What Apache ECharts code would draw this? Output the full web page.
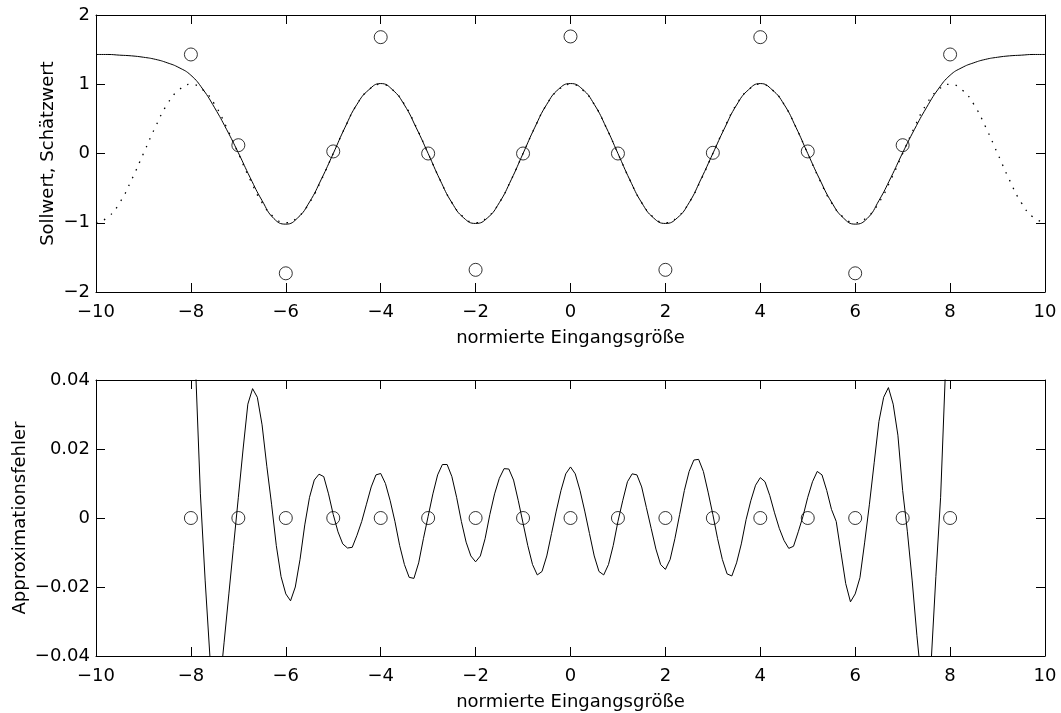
<!DOCTYPE html>
<html>
<head>
<meta charset="utf-8">
<script src="https://cdn.jsdelivr.net/npm/echarts@6/dist/echarts.min.js"></script>
<style>
  html, body { margin: 0; background: #fff; }
  #chart { width: 1061px; height: 713px; }
</style>
</head>
<body>
<div id="chart"></div>
<script>
// Stützstellen (Kreise)
const knotX = [-8, -7, -6, -5, -4, -3, -2, -1, 0, 1, 2, 3, 4, 5, 6, 7, 8];
const knotY = [1.43, 0.12, -1.73, 0.03, 1.68, 0.0, -1.68, 0.0, 1.69, 0.0, -1.68, 0.01, 1.68, 0.03, -1.73, 0.12, 1.43];
const errKnotY = [0, 0, 0, 0, 0, 0, 0, 0, 0, 0, 0, 0, 0, 0, 0, 0, 0];

const curveStep = 0.25;
const estimate = [
  1.43, 1.43, 1.42, 1.41, 1.39, 1.36, 1.31, 1.24,
  1.13, 0.93, 0.66, 0.35, 0.01, -0.35, -0.68, -0.94,
  -1.02, -0.93, -0.70, -0.37, 0.00, 0.38, 0.71, 0.92,
  1.01, 0.92, 0.70, 0.37, 0.00, -0.38, -0.71, -0.93,
  -1.01, -0.93, -0.71, -0.38, 0.00, 0.38, 0.71, 0.93,
  1.01, 0.93, 0.71, 0.38, 0.00, -0.38, -0.71, -0.93,
  -1.01, -0.93, -0.71, -0.37, 0.00, 0.37, 0.70, 0.92,
  1.01, 0.92, 0.71, 0.38, 0.00, -0.37, -0.70, -0.93,
  -1.02, -0.94, -0.68, -0.35, 0.01, 0.35, 0.66, 0.93,
  1.13, 1.24, 1.31, 1.36, 1.39, 1.41, 1.42, 1.43,
  1.43
];
const target = [
  -1, -0.92, -0.71, -0.38, 0, 0.38, 0.71, 0.92,
  1, 0.92, 0.71, 0.38, 0, -0.38, -0.71, -0.92,
  -1, -0.92, -0.71, -0.38, 0, 0.38, 0.71, 0.92,
  1, 0.92, 0.71, 0.38, 0, -0.38, -0.71, -0.92,
  -1, -0.92, -0.71, -0.38, 0, 0.38, 0.71, 0.92,
  1, 0.92, 0.71, 0.38, 0, -0.38, -0.71, -0.92,
  -1, -0.92, -0.71, -0.38, 0, 0.38, 0.71, 0.92,
  1, 0.92, 0.71, 0.38, 0, -0.38, -0.71, -0.92,
  -1, -0.92, -0.71, -0.38, 0, 0.38, 0.71, 0.92,
  1, 0.92, 0.71, 0.38, 0, -0.38, -0.71, -0.92,
  -1
];

// Approximationsfehler, abgelesen in Schritten von 0.1 (x = -10 ... 10)
const errStep = 0.1;
const approxError = [
  2.43, 2.42, 2.38, 2.32, 2.23, 2.13, 2.01, 1.86, 1.71, 1.56,
  1.39, 1.22, 1.05, 0.90, 0.74, 0.60, 0.47, 0.37, 0.28, 0.20,
  0.13, 0.043, 0.007, -0.018, -0.040, -0.052, -0.050, -0.036, -0.022, -0.008,
  0.006, 0.020, 0.033, 0.0375, 0.035, 0.027, 0.015, 0.004, -0.008, -0.017,
  -0.022, -0.024, -0.020, -0.012, -0.002, 0.006, 0.011, 0.0127, 0.012, 0.007,
  0.001, -0.004, -0.0075, -0.0087, -0.0085, -0.005, -0.001, 0.004, 0.009, 0.0125,
  0.0129, 0.010, 0.005, -0.001, -0.008, -0.0135, -0.0172, -0.0175, -0.013, -0.006,
  0.0005, 0.007, 0.0125, 0.0155, 0.0155, 0.012, 0.006, -0.001, -0.007, -0.011,
  -0.0127, -0.011, -0.006, 0.001, 0.007, 0.0115, 0.0143, 0.0142, 0.011, 0.005,
  -0.0015, -0.008, -0.0135, -0.0165, -0.0155, -0.011, -0.0045, 0.002, 0.008, 0.0128,
  0.0148, 0.0128, 0.008, 0.002, -0.0045, -0.011, -0.0155, -0.0165, -0.0135, -0.008,
  -0.001, 0.005, 0.0105, 0.0128, 0.0125, 0.009, 0.003, -0.003, -0.009, -0.0135,
  -0.0149, -0.012, -0.006, 0.001, 0.008, 0.0135, 0.0168, 0.0170, 0.0135, 0.0075,
  0.001, -0.006, -0.012, -0.0162, -0.0168, -0.013, -0.0075, -0.0005, 0.005, 0.0095,
  0.0117, 0.0105, 0.0065, 0.0015, -0.003, -0.0065, -0.0088, -0.0082, -0.004, 0.0005,
  0.006, 0.0105, 0.0135, 0.0125, 0.008, 0.0025, -0.001, -0.010, -0.019, -0.0243,
  -0.022, -0.0173, -0.007, 0.004, 0.016, 0.028, 0.035, 0.0378, 0.033, 0.024,
  0.008, -0.004, -0.018, -0.034, -0.048, -0.055, -0.042, -0.017, 0.006, 0.042,
  0.13, 0.20, 0.28, 0.37, 0.47, 0.60, 0.74, 0.90, 1.05, 1.22,
  1.39, 1.56, 1.71, 1.86, 2.01, 2.13, 2.23, 2.32, 2.38, 2.42,
  2.43
];

const xMin = -10;
const FONT = 'DejaVu Sans';

function pairs(ys, step) {
  return ys.map((y, i) => [+(xMin + i * step).toFixed(2), y]);
}
function zip(xs, ys) {
  return xs.map((x, i) => [x, ys[i]]);
}
function minus(v) {
  return String(v).replace('-', '\u2212');
}

const chart = echarts.init(document.getElementById('chart'));

function xAx(grid, pos, show) {
  return {
    type: 'value', gridIndex: grid, position: pos,
    min: -10, max: 10, interval: 2,
    axisLine: { show: true, onZero: false, lineStyle: { color: '#000', width: 1 } },
    axisTick: { show: true, inside: true, length: 9, lineStyle: { color: '#000' } },
    axisLabel: { show: show, color: '#000', fontFamily: FONT, fontSize: 18, margin: 11, formatter: minus },
    splitLine: { show: false },
    name: show ? 'normierte Eingangsgröße' : '',
    nameLocation: 'middle', nameGap: 37, nameMoveOverlap: false,
    nameTextStyle: { color: '#000', fontFamily: FONT, fontSize: 18 }
  };
}
function yAx(grid, pos, min, max, step, show, title, gap) {
  return {
    type: 'value', gridIndex: grid, position: pos,
    min: min, max: max, interval: step,
    axisLine: { show: true, onZero: false, lineStyle: { color: '#000', width: 1 } },
    axisTick: { show: true, inside: true, length: 9, lineStyle: { color: '#000' } },
    axisLabel: { show: show, color: '#000', fontFamily: FONT, fontSize: 18, margin: 6, formatter: minus },
    splitLine: { show: false },
    name: show ? title : '',
    nameLocation: 'middle', nameGap: gap, nameRotate: 90, nameMoveOverlap: false,
    nameTextStyle: { color: '#000', fontFamily: FONT, fontSize: 18 }
  };
}

chart.setOption({
  animation: false,
  backgroundColor: '#fff',
  grid: [
    { left: 96, top: 15, width: 949, height: 277, outerBoundsMode: 'none' },
    { left: 96, top: 380, width: 949, height: 276, outerBoundsMode: 'none' }
  ],
  xAxis: [
    xAx(0, 'bottom', true),
    xAx(0, 'top', false),
    xAx(1, 'bottom', true),
    xAx(1, 'top', false)
  ],
  yAxis: [
    yAx(0, 'left', -2, 2, 1, true, 'Sollwert, Schätzwert', 39),
    yAx(0, 'right', -2, 2, 1, false, '', 0),
    yAx(1, 'left', -0.04, 0.04, 0.02, true, 'Approximationsfehler', 67),
    yAx(1, 'right', -0.04, 0.04, 0.02, false, '', 0)
  ],
  series: [
    {
      name: 'Sollwert', type: 'line', xAxisIndex: 0, yAxisIndex: 0,
      data: pairs(target, curveStep), smooth: true, showSymbol: false,
      lineStyle: { color: '#000', width: 1.3, type: [1.5, 7] }
    },
    {
      name: 'Schätzwert', type: 'line', xAxisIndex: 0, yAxisIndex: 0,
      data: pairs(estimate, curveStep), smooth: true, showSymbol: false,
      lineStyle: { color: '#000', width: 1 }
    },
    {
      name: 'Stützstellen', type: 'scatter', xAxisIndex: 0, yAxisIndex: 0,
      data: zip(knotX, knotY), symbol: 'circle', symbolSize: 13,
      itemStyle: { color: 'transparent', borderColor: '#000', borderWidth: 1 }
    },
    {
      name: 'Fehler', type: 'line', xAxisIndex: 2, yAxisIndex: 2,
      data: pairs(approxError, errStep), showSymbol: false, clip: true,
      lineStyle: { color: '#000', width: 1 }
    },
    {
      name: 'Stützstellen Fehler', type: 'scatter', xAxisIndex: 2, yAxisIndex: 2,
      data: zip(knotX, errKnotY), symbol: 'circle', symbolSize: 13,
      itemStyle: { color: 'transparent', borderColor: '#000', borderWidth: 1 }
    }
  ]
});
</script>
</body>
</html>
